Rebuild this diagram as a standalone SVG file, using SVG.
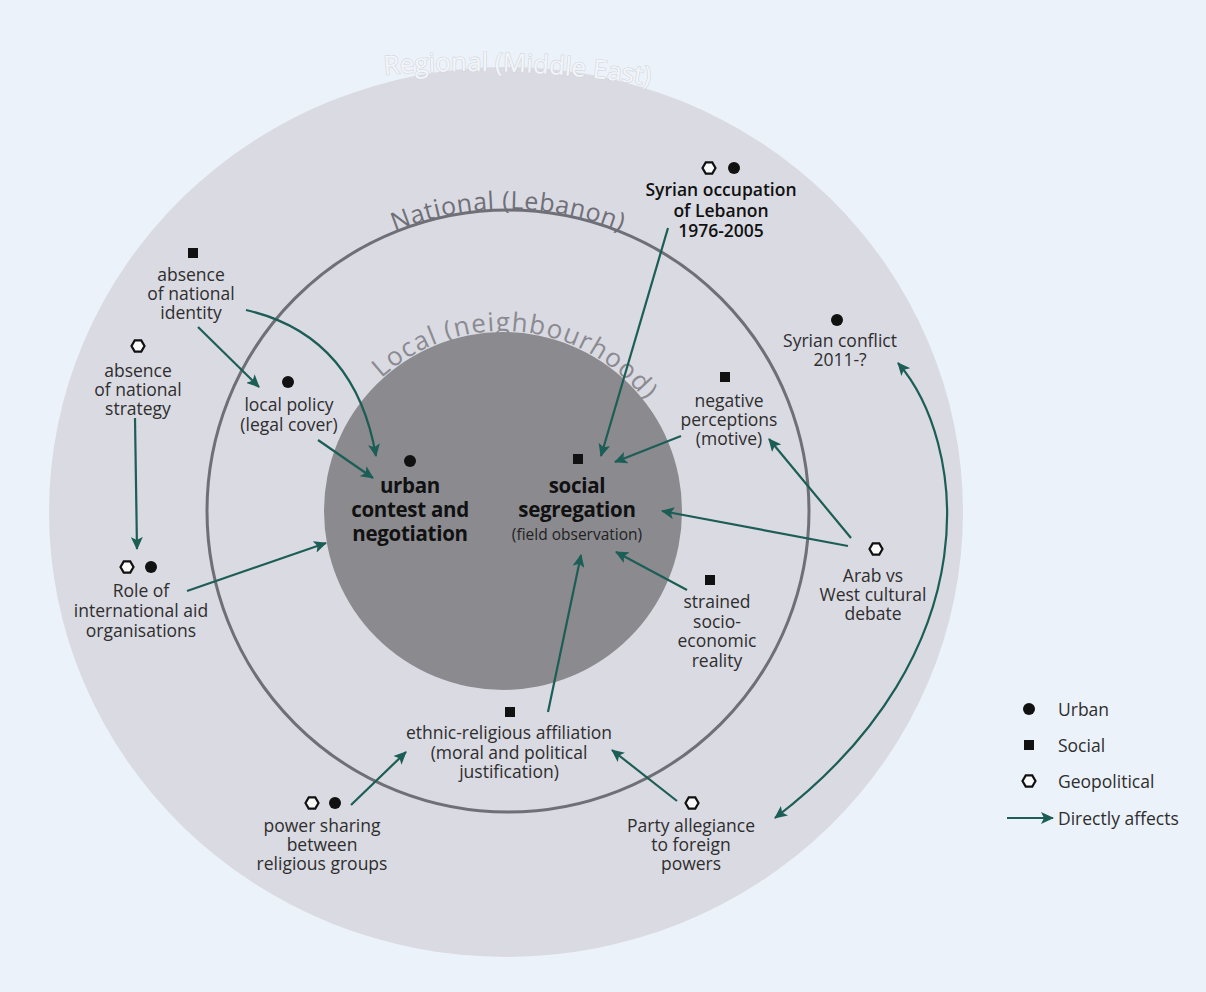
<svg xmlns="http://www.w3.org/2000/svg" xmlns:xlink="http://www.w3.org/1999/xlink" width="1206" height="992" viewBox="0 0 1206 992">
<style>
.lbl{font-family:"Open Sans","Noto Sans","Liberation Sans",sans-serif;font-size:17.5px;fill:#2e2e2e;text-anchor:middle}
.ctr{font-family:"Open Sans","Noto Sans","Liberation Sans",sans-serif;font-size:20.5px;font-weight:700;fill:#111;text-anchor:middle;letter-spacing:-0.3px}
.sub{font-family:"Open Sans","Noto Sans","Liberation Sans",sans-serif;font-size:15.5px;fill:#222;text-anchor:middle}
.syr{font-family:"Open Sans","Noto Sans","Liberation Sans",sans-serif;font-size:17.5px;font-weight:600;fill:#111;text-anchor:middle}
.leg{font-family:"Open Sans","Noto Sans","Liberation Sans",sans-serif;font-size:17.5px;fill:#2e2e2e}
.ring{font-family:"Open Sans","Noto Sans","Liberation Sans",sans-serif;font-size:25px;text-anchor:middle}
.arr{fill:none;stroke:#1c5e55;stroke-width:2.2;marker-end:url(#ah)}
</style>
<defs>
<marker id="ah" markerUnits="userSpaceOnUse" markerWidth="14" markerHeight="12" refX="12" refY="6" orient="auto-start-reverse" viewBox="0 0 14 12">
<path d="M0,0 L13,6 L0,12 L3,6 Z" fill="#1c5e55"/>
</marker>
<polygon id="hex" points="-6.5,0 -3.25,-5.6 3.25,-5.6 6.5,0 3.25,5.6 -3.25,5.6" fill="#fafafa" stroke="#111" stroke-width="2.2"/>
<circle id="dot" r="6" fill="#111"/>
<rect id="sq" x="-5" y="-5" width="10" height="10" fill="#111"/>
<path id="pReg" d="M362,77 Q508,61 672,89"/>
<path id="pNat" d="M246.5,360 A302,302 0 0 1 769.5,360"/>
<path id="pLoc" d="M329.1,464.4 A180,180 0 0 1 682.3,495.3"/>
</defs>
<rect width="1206" height="992" fill="#ecf2f9"/>
<g id="rings">
<ellipse cx="506" cy="512" rx="457" ry="445" fill="#dadae2"/>
<circle cx="508" cy="511" r="301" fill="none" stroke="#6f6f77" stroke-width="3"/>
<circle cx="503" cy="511" r="179" fill="#8a8a8f"/>
<text class="ring" fill="#f2f5f9" stroke="#d2d5dc" stroke-width="1.2" style="paint-order:stroke;font-size:26px"><textPath href="#pReg" xlink:href="#pReg" startOffset="50%">Regional (Middle East)</textPath></text>
<text class="ring" fill="#6f6f77" letter-spacing="0.6"><textPath href="#pNat" xlink:href="#pNat" startOffset="50%">National (Lebanon)</textPath></text>
<text class="ring" fill="#8a8a90" letter-spacing="1.2" style="font-size:26px"><textPath href="#pLoc" xlink:href="#pLoc" startOffset="50%">Local (neighbourhood)</textPath></text>
</g>
<g id="connectors">
<path class="arr" d="M668,228 L601,456"/>
<path class="arr" d="M198,327 L259,387"/>
<path class="arr" d="M246,310 Q355,335 376,456"/>
<path class="arr" d="M135,418 L137,549"/>
<path class="arr" d="M318,440 L373,478"/>
<path class="arr" d="M187,591 L326,543"/>
<path class="arr" d="M851,538 L769,439"/>
<path class="arr" d="M681,436 L615,462"/>
<path class="arr" d="M848,546 L662,511"/>
<path class="arr" d="M687,590 L616,552"/>
<path class="arr" d="M548,712 L581,555"/>
<path class="arr" d="M351,805 L406,752"/>
<path class="arr" d="M677,801 L612,750"/>
<path class="arr" style="marker-start:url(#ah)" d="M898,363 C965,440 995,650 775,818"/>
</g>
<g id="n-syrian-occupation">
<use href="#hex" xlink:href="#hex" x="709" y="168"/><use href="#dot" xlink:href="#dot" x="734" y="168"/>
<text class="syr" x="721" y="196">Syrian occupation</text>
<text class="syr" x="721" y="217">of Lebanon</text>
<text class="syr" x="721" y="237">1976-2005</text>
</g>
<g id="n-national-identity">
<use href="#sq" xlink:href="#sq" x="193" y="253"/>
<text class="lbl" x="191" y="281">absence</text>
<text class="lbl" x="191" y="300">of national</text>
<text class="lbl" x="191" y="319">identity</text>
</g>
<g id="n-national-strategy">
<use href="#hex" xlink:href="#hex" x="138" y="346"/>
<text class="lbl" x="138" y="377">absence</text>
<text class="lbl" x="138" y="396">of national</text>
<text class="lbl" x="138" y="415">strategy</text>
</g>
<g id="n-local-policy">
<use href="#dot" xlink:href="#dot" x="288" y="382"/>
<text class="lbl" x="289" y="411">local policy</text>
<text class="lbl" x="289" y="431">(legal cover)</text>
</g>
<g id="n-urban-contest">
<use href="#dot" xlink:href="#dot" x="410" y="461"/>
<text class="ctr" x="410" y="493">urban</text>
<text class="ctr" x="410" y="517">contest and</text>
<text class="ctr" x="410" y="541">negotiation</text>
</g>
<g id="n-social-segregation">
<use href="#sq" xlink:href="#sq" x="578" y="459"/>
<text class="ctr" x="577" y="493">social</text>
<text class="ctr" x="577" y="517">segregation</text>
<text class="sub" x="577" y="540">(field observation)</text>
</g>
<g id="n-negative-perceptions">
<use href="#sq" xlink:href="#sq" x="725" y="377"/>
<text class="lbl" x="729" y="407">negative</text>
<text class="lbl" x="729" y="426">perceptions</text>
<text class="lbl" x="729" y="445">(motive)</text>
</g>
<g id="n-syrian-conflict">
<use href="#dot" xlink:href="#dot" x="837" y="320"/>
<text class="lbl" x="840" y="347">Syrian conflict</text>
<text class="lbl" x="840" y="366">2011-?</text>
</g>
<g id="n-arab-west">
<use href="#hex" xlink:href="#hex" x="876" y="549"/>
<text class="lbl" x="873" y="582">Arab vs</text>
<text class="lbl" x="873" y="601">West cultural</text>
<text class="lbl" x="873" y="620">debate</text>
</g>
<g id="n-strained">
<use href="#sq" xlink:href="#sq" x="710" y="580"/>
<text class="lbl" x="717" y="608">strained</text>
<text class="lbl" x="717" y="628">socio-</text>
<text class="lbl" x="717" y="647">economic</text>
<text class="lbl" x="717" y="667">reality</text>
</g>
<g id="n-aid">
<use href="#hex" xlink:href="#hex" x="127" y="567"/><use href="#dot" xlink:href="#dot" x="151" y="567"/>
<text class="lbl" x="141" y="597">Role of</text>
<text class="lbl" x="141" y="617">international aid</text>
<text class="lbl" x="141" y="637">organisations</text>
</g>
<g id="n-ethnic">
<use href="#sq" xlink:href="#sq" x="510" y="712"/>
<text class="lbl" x="509" y="739">ethnic-religious affiliation</text>
<text class="lbl" x="509" y="759">(moral and political</text>
<text class="lbl" x="509" y="778">justification)</text>
</g>
<g id="n-power-sharing">
<use href="#hex" xlink:href="#hex" x="312" y="803"/><use href="#dot" xlink:href="#dot" x="335" y="803"/>
<text class="lbl" x="322" y="832">power sharing</text>
<text class="lbl" x="322" y="851">between</text>
<text class="lbl" x="322" y="870">religious groups</text>
</g>
<g id="n-party">
<use href="#hex" xlink:href="#hex" x="692" y="803"/>
<text class="lbl" x="691" y="832">Party allegiance</text>
<text class="lbl" x="691" y="851">to foreign</text>
<text class="lbl" x="691" y="870">powers</text>
</g>
<g id="legend">
<use href="#dot" xlink:href="#dot" x="1029" y="709"/>
<text class="leg" x="1058" y="716">Urban</text>
<use href="#sq" xlink:href="#sq" x="1029" y="745"/>
<text class="leg" x="1058" y="752">Social</text>
<use href="#hex" xlink:href="#hex" x="1029" y="781"/>
<text class="leg" x="1058" y="788">Geopolitical</text>
<path class="arr" d="M1007,818 L1053,818"/>
<text class="leg" x="1058" y="825">Directly affects</text>
</g>
</svg>
